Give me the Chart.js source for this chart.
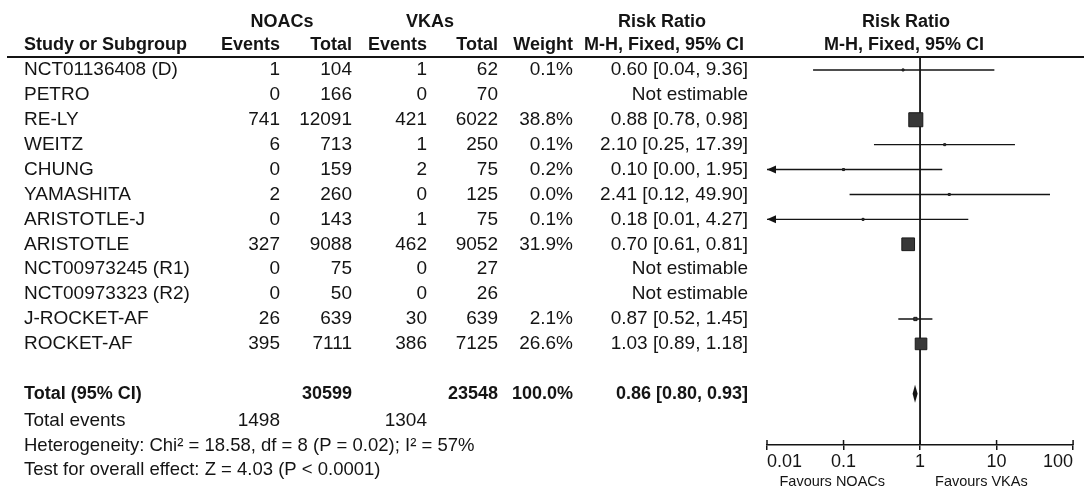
<!DOCTYPE html>
<html>
<head>
<meta charset="utf-8">
<script src="https://cdn.jsdelivr.net/npm/chart.js@4.4.0/dist/chart.umd.min.js"></script>
<style>
  html, body { margin: 0; padding: 0; background: #fff; }
  canvas { display: block; }
</style>
</head>
<body>
<canvas id="forest" width="1084" height="486"></canvas>
<script>
// Datos del forest plot
const studies = ["NCT01136408 (D)", "PETRO", "RE-LY", "WEITZ", "CHUNG", "YAMASHITA", "ARISTOTLE-J",
  "ARISTOTLE", "NCT00973245 (R1)", "NCT00973323 (R2)", "J-ROCKET-AF", "ROCKET-AF"];
const noacEvents = [1, 0, 741, 6, 0, 2, 0, 327, 0, 0, 26, 395];
const noacTotal = [104, 166, 12091, 713, 159, 260, 143, 9088, 75, 50, 639, 7111];
const vkaEvents = [1, 0, 421, 1, 2, 0, 1, 462, 0, 0, 30, 386];
const vkaTotal = [62, 70, 6022, 250, 75, 125, 75, 9052, 27, 26, 639, 7125];
const weights = [0.1, null, 38.8, 0.1, 0.2, 0.0, 0.1, 31.9, null, null, 2.1, 26.6];
const riskRatio = [0.60, null, 0.88, 2.10, 0.10, 2.41, 0.18, 0.70, null, null, 0.87, 1.03];
const ciLow = [0.04, null, 0.78, 0.25, 0.00, 0.12, 0.01, 0.61, null, null, 0.52, 0.89];
const ciHigh = [9.36, null, 0.98, 17.39, 1.95, 49.90, 4.27, 0.81, null, null, 1.45, 1.18];

// Totales
const totalNoac = 30599, totalVka = 23548;
const eventsNoac = 1498, eventsVka = 1304;
const totalRR = [0.86, 0.80, 0.93]; // estimado, inferior, superior
const heterogeneity = "Heterogeneity: Chi\u00b2 = 18.58, df = 8 (P = 0.02); I\u00b2 = 57%";
const overallEffect = "Test for overall effect: Z = 4.03 (P < 0.0001)";

// Eje
const axisTicks = [0.01, 0.1, 1, 10, 100];
const axisLabels = ["0.01", "0.1", "1", "10", "100"];

const FONT = '"Liberation Sans", Arial, sans-serif';
const INK = '#141414';
const xMin = 0.01, xMax = 100;
const yMin = -0.52, yMax = 15.06;
const totalRow = 13;

// columnas de la tabla (borde derecho salvo la primera)
const col = { study: 24, nEv: 280, nTot: 352, vEv: 427, vTot: 498, weight: 573, rr: 748 };

const fmtRR = (i) => riskRatio[i] === null ? "Not estimable"
  : `${riskRatio[i].toFixed(2)} [${ciLow[i].toFixed(2)}, ${ciHigh[i].toFixed(2)}]`;

// segmentos de IC (cortados al minimo del eje)
const ciData = [];
studies.forEach((s, i) => {
  if (riskRatio[i] === null) return;
  ciData.push({ x: Math.max(ciLow[i], xMin), y: i });
  ciData.push({ x: Math.min(ciHigh[i], xMax), y: i });
  ciData.push({ x: ciHigh[i], y: null });
});

const boxData = [];
const boxRadius = [];
studies.forEach((s, i) => {
  if (riskRatio[i] === null) return;
  boxData.push({ x: riskRatio[i], y: i });
  const side = Math.max(2, 2.25 * Math.sqrt(weights[i]));
  boxRadius.push(side / Math.SQRT2);
});

const tablePlugin = {
  id: 'tabla',
  afterDatasetsDraw(chart) {
    const ctx = chart.ctx;
    const xs = chart.scales.x, ys = chart.scales.y;
    const Y = (v) => ys.getPixelForValue(v);

    ctx.save();
    // flechas para IC fuera de escala
    studies.forEach((s, i) => {
      if (riskRatio[i] === null || ciLow[i] > xMin) return;
      const x = xs.getPixelForValue(xMin), y = Y(i);
      ctx.fillStyle = INK;
      ctx.beginPath();
      ctx.moveTo(x, y);
      ctx.lineTo(x + 9, y - 4);
      ctx.lineTo(x + 9, y + 4);
      ctx.closePath();
      ctx.fill();
    });

    // rombo del total
    const yt = Y(totalRow);
    ctx.beginPath();
    ctx.moveTo(xs.getPixelForValue(totalRR[1]), yt);
    ctx.lineTo(xs.getPixelForValue(totalRR[0]), yt - 9);
    ctx.lineTo(xs.getPixelForValue(totalRR[2]), yt);
    ctx.lineTo(xs.getPixelForValue(totalRR[0]), yt + 9);
    ctx.closePath();
    ctx.fillStyle = INK;
    ctx.fill();

    // marcas del eje hacia arriba
    ctx.strokeStyle = INK;
    ctx.lineWidth = 1.5;
    axisTicks.forEach(v => {
      const x = xs.getPixelForValue(v);
      ctx.beginPath();
      ctx.moveTo(x, chart.chartArea.bottom - 5);
      ctx.lineTo(x, chart.chartArea.bottom);
      ctx.stroke();
    });

    // linea del encabezado
    ctx.lineWidth = 2;
    ctx.beginPath();
    ctx.moveTo(7, Y(yMin));
    ctx.lineTo(1084, Y(yMin));
    ctx.stroke();

    const text = (t, x, y, align, bold, size) => {
      ctx.font = `${bold ? 'bold ' : ''}${size || 19}px ${FONT}`;
      ctx.textAlign = align;
      ctx.textBaseline = 'middle';
      ctx.fillStyle = INK;
      ctx.fillText(t, x, y);
    };

    // encabezados
    const h1 = Y(-1.94), h2 = Y(-1.0);
    text("NOACs", 282, h1, 'center', true, 18);
    text("VKAs", 430, h1, 'center', true, 18);
    text("Risk Ratio", 662, h1, 'center', true, 18);
    text("Risk Ratio", 906, h1, 'center', true, 18);
    text("Study or Subgroup", col.study, h2, 'left', true, 18);
    text("Events", col.nEv, h2, 'right', true, 18);
    text("Total", col.nTot, h2, 'right', true, 18);
    text("Events", col.vEv, h2, 'right', true, 18);
    text("Total", col.vTot, h2, 'right', true, 18);
    text("Weight", col.weight, h2, 'right', true, 18);
    text("M-H, Fixed, 95% CI", 664, h2, 'center', true, 18);
    text("M-H, Fixed, 95% CI", 904, h2, 'center', true, 18);

    // filas de estudios
    studies.forEach((s, i) => {
      const y = Y(i);
      text(s, col.study, y, 'left');
      text(String(noacEvents[i]), col.nEv, y, 'right');
      text(String(noacTotal[i]), col.nTot, y, 'right');
      text(String(vkaEvents[i]), col.vEv, y, 'right');
      text(String(vkaTotal[i]), col.vTot, y, 'right');
      if (weights[i] !== null) text(weights[i].toFixed(1) + "%", col.weight, y, 'right');
      text(fmtRR(i), col.rr, y, 'right');
    });

    // total
    text("Total (95% CI)", col.study, yt, 'left', true, 18);
    text(String(totalNoac), col.nTot, yt, 'right', true, 18);
    text(String(totalVka), col.vTot, yt, 'right', true, 18);
    text("100.0%", col.weight, yt, 'right', true, 18);
    text(`${totalRR[0].toFixed(2)} [${totalRR[1].toFixed(2)}, ${totalRR[2].toFixed(2)}]`, col.rr, yt, 'right', true, 18);

    const ye = Y(14.1);
    text("Total events", col.study, ye, 'left');
    text(String(eventsNoac), col.nEv, ye, 'right');
    text(String(eventsVka), col.vEv, ye, 'right');
    text(heterogeneity, col.study, Y(15.1), 'left', false, 18.5);
    text(overallEffect, col.study, Y(16.05), 'left', false, 18.5);

    // etiquetas bajo el eje
    const xOne = xs.getPixelForValue(1);
    text("Favours NOACs", xOne - 35, 482, 'right', false, 14.5);
    text("Favours VKAs", xOne + 15, 482, 'left', false, 14.5);
    ctx.restore();
  }
};

new Chart(document.getElementById('forest').getContext('2d'), {
  type: 'scatter',
  plugins: [tablePlugin],
  data: {
    datasets: [
      {
        // linea de no efecto
        data: [{ x: 1, y: yMin }, { x: 1, y: yMax }],
        order: 3,
        showLine: true, borderColor: INK, borderWidth: 1.8, pointRadius: 0
      },
      {
        data: ciData,
        order: 2,
        showLine: true, spanGaps: false, borderColor: INK, borderWidth: 1.4, pointRadius: 0
      },
      {
        data: boxData,
        order: 1,
        pointStyle: 'rect',
        pointRadius: boxRadius,
        backgroundColor: '#383838',
        borderColor: '#1a1a1a',
        borderWidth: 1
      }
    ]
  },
  options: {
    responsive: false,
    animation: false,
    devicePixelRatio: 1,
    layout: { padding: { left: 767, right: 7, top: 57, bottom: 0 } },
    plugins: { legend: { display: false }, tooltip: { enabled: false } },
    scales: {
      x: {
        type: 'logarithmic',
        min: xMin, max: xMax,
        afterBuildTicks: (scale) => { scale.ticks = axisTicks.map(v => ({ value: v })); },
        afterFit: (scale) => { scale.height = 41; scale.paddingLeft = 0; scale.paddingRight = 0; },
        ticks: {
          align: 'inner', autoSkip: false, maxRotation: 0, padding: 1, color: INK,
          font: { family: FONT, size: 18 },
          callback: (v, i) => axisLabels[i]
        },
        grid: { drawOnChartArea: false, color: INK, lineWidth: 1.5, tickLength: 5 },
        border: { color: INK, width: 1.5 }
      },
      y: { type: 'linear', reverse: true, min: yMin, max: yMax, display: false }
    }
  }
});
</script>
</body>
</html>
